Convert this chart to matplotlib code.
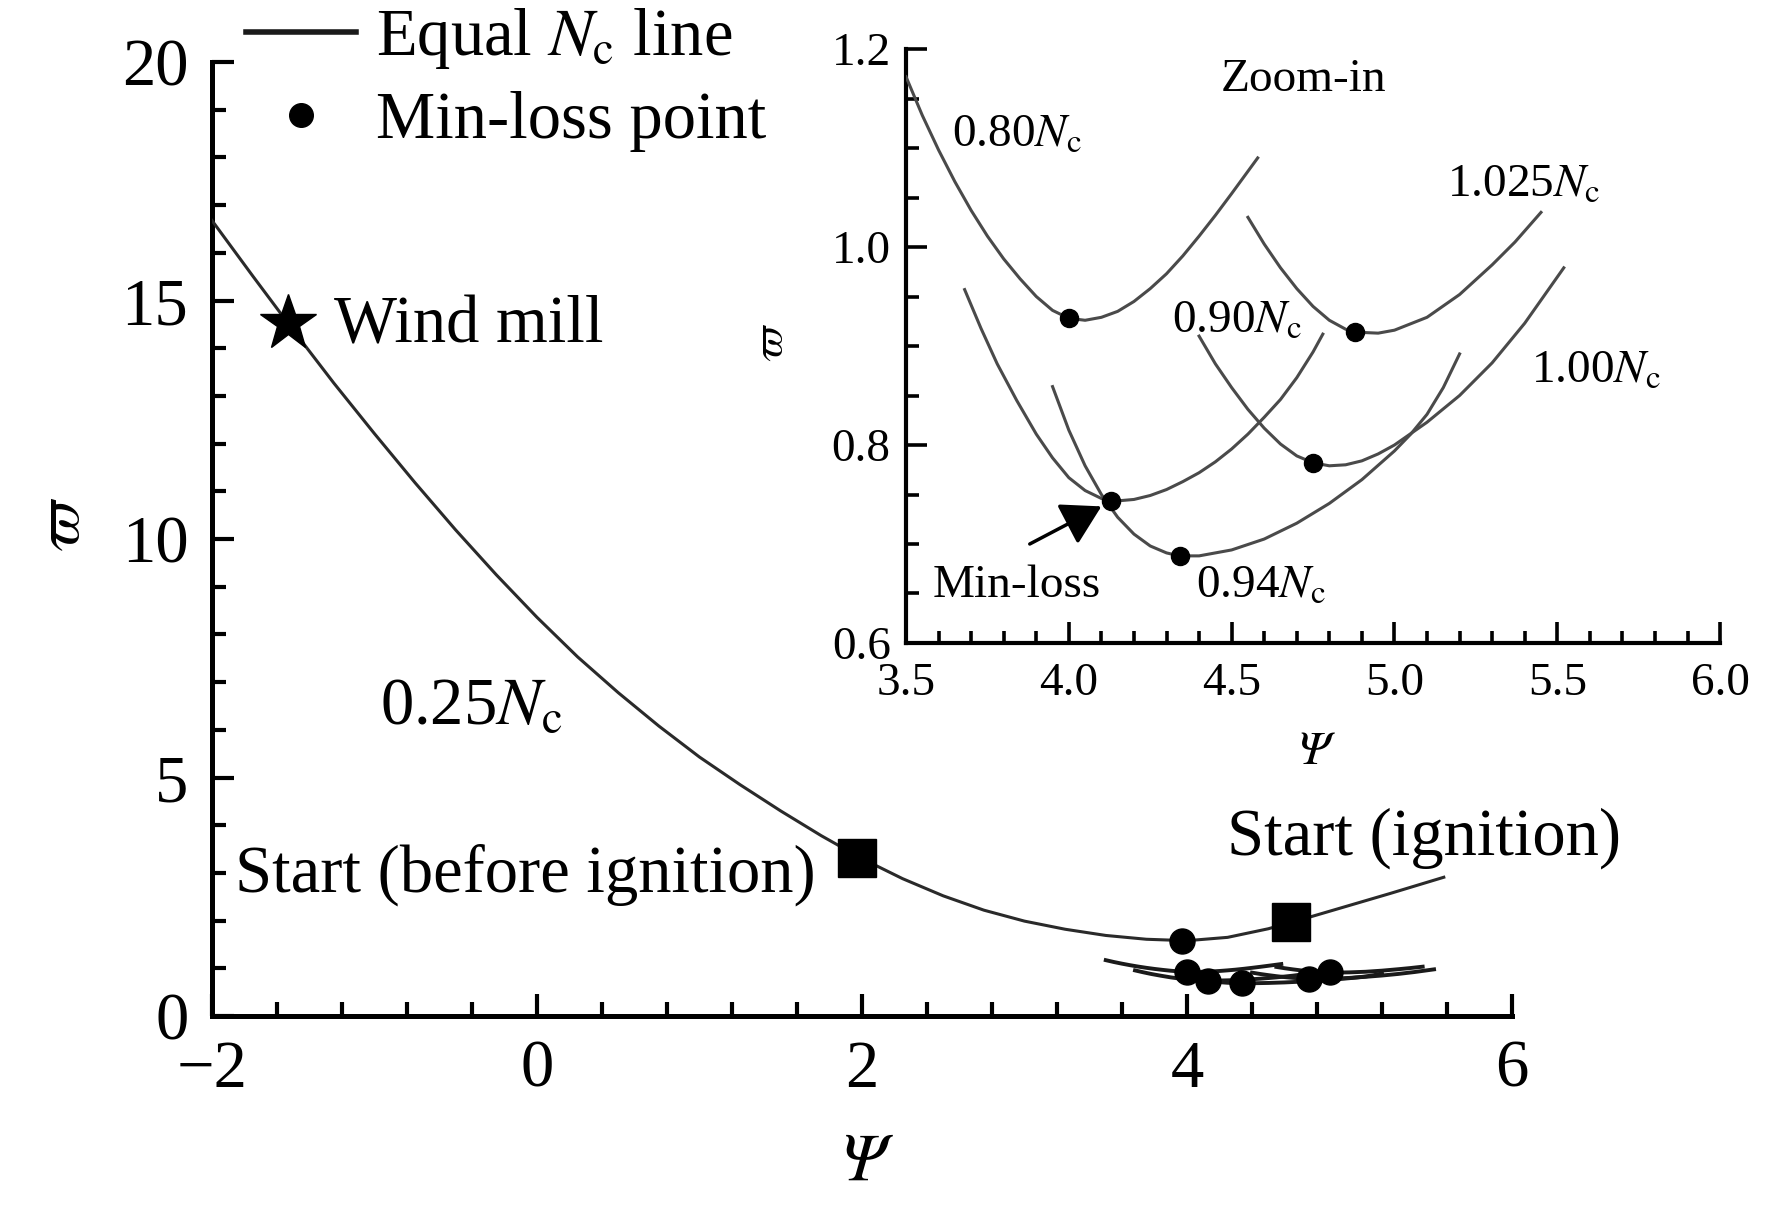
import matplotlib
matplotlib.use("Agg")
import matplotlib.pyplot as plt
from matplotlib.ticker import MultipleLocator, FormatStrFormatter
from matplotlib.lines import Line2D

plt.rcParams['font.family'] = ['Liberation Serif', 'DejaVu Serif']
plt.rcParams['mathtext.fontset'] = 'stix'

# ---------------- data ----------------
# 0.25 Nc equal-speed line (main plot)
psi_025 = [-2.00, -1.75, -1.50, -1.25, -1.00, -0.75, -0.50, -0.25, 0.00, 0.25,
           0.50, 0.75, 1.00, 1.25, 1.50, 1.75, 2.00, 2.25, 2.50, 2.75, 3.00,
           3.25, 3.50, 3.75, 4.00, 4.25, 4.50, 4.75, 5.00, 5.25, 5.58]
w_025 = [16.68, 15.52, 14.38, 13.27, 12.21, 11.18, 10.19, 9.25, 8.36, 7.53,
         6.78, 6.08, 5.43, 4.85, 4.30, 3.78, 3.30, 2.88, 2.52, 2.22, 1.99,
         1.82, 1.69, 1.61, 1.58, 1.65, 1.83, 2.07, 2.32, 2.57, 2.91]

# zoom-in equal-speed lines
psi_080 = [3.50, 3.55, 3.60, 3.65, 3.70, 3.75, 3.80, 3.85, 3.90, 3.95, 4.00,
           4.05, 4.10, 4.15, 4.20, 4.25, 4.30, 4.35, 4.40, 4.45, 4.50, 4.58]
w_080 = [1.172, 1.133, 1.098, 1.066, 1.037, 1.011, 0.988, 0.968, 0.950, 0.936,
         0.928, 0.926, 0.929, 0.935, 0.945, 0.958, 0.973, 0.991, 1.011, 1.032,
         1.054, 1.090]

psi_090 = [3.68, 3.73, 3.78, 3.84, 3.90, 3.95, 4.00, 4.05, 4.10, 4.13, 4.20,
           4.25, 4.30, 4.35, 4.40, 4.45, 4.50, 4.55, 4.60, 4.65, 4.70, 4.75,
           4.78]
w_090 = [0.957, 0.918, 0.882, 0.845, 0.811, 0.787, 0.767, 0.754, 0.746, 0.743,
         0.745, 0.749, 0.755, 0.763, 0.772, 0.783, 0.796, 0.811, 0.828, 0.846,
         0.868, 0.894, 0.912]

psi_094 = [3.95, 4.00, 4.05, 4.10, 4.15, 4.20, 4.25, 4.30, 4.34, 4.40, 4.50,
           4.60, 4.70, 4.80, 4.90, 5.00, 5.05, 5.10, 5.15, 5.20]
w_094 = [0.859, 0.815, 0.779, 0.750, 0.727, 0.710, 0.698, 0.691, 0.688, 0.688,
         0.694, 0.705, 0.721, 0.741, 0.765, 0.794, 0.811, 0.831, 0.858, 0.892]

psi_100 = [4.40, 4.45, 4.50, 4.55, 4.60, 4.65, 4.70, 4.75, 4.80, 4.85, 4.90,
           4.95, 5.00, 5.10, 5.20, 5.30, 5.40, 5.52]
w_100 = [0.910, 0.882, 0.858, 0.836, 0.817, 0.801, 0.789, 0.782, 0.779, 0.780,
         0.784, 0.791, 0.800, 0.823, 0.850, 0.883, 0.923, 0.979]

psi_1025 = [4.55, 4.60, 4.65, 4.70, 4.75, 4.80, 4.85, 4.88, 4.95, 5.00, 5.10,
            5.20, 5.30, 5.37, 5.45]
w_1025 = [1.030, 1.003, 0.979, 0.958, 0.940, 0.926, 0.917, 0.914, 0.913, 0.916,
          0.929, 0.952, 0.982, 1.005, 1.035]

# min-loss points
minloss_main_psi = [3.97]
minloss_main_w = [1.58]
minloss_psi = [4.00, 4.13, 4.34, 4.75, 4.88]
minloss_w = [0.928, 0.743, 0.688, 0.782, 0.914]

# special operating points
windmill_psi, windmill_w = [-1.53], [14.52]
start_psi = [1.97, 4.64]
start_w = [3.31, 1.97]

zoom_curves = [(psi_080, w_080), (psi_090, w_090), (psi_094, w_094),
               (psi_100, w_100), (psi_1025, w_1025)]

# ---------------- figure ----------------
fig = plt.figure(figsize=(17.72, 12.05), dpi=100)
ax = fig.add_axes([0.1196, 0.1568, 0.7337, 0.7917])

ax.plot(psi_025, w_025, color='#2a2a2a', lw=2.2, zorder=3)
for px, wy in zoom_curves:
    ax.plot(px, wy, color='#1a1a1a', lw=2.8, zorder=3)
ax.plot(minloss_main_psi + minloss_psi, minloss_main_w + minloss_w, 'o',
        color='k', ms=18, zorder=4)
ax.plot(windmill_psi, windmill_w, '*', color='k', ms=42, zorder=5)
ax.plot(start_psi, start_w, 's', color='k', ms=28, zorder=5)

ax.set_xlim(-2, 6)
ax.set_ylim(0, 20)
ax.xaxis.set_major_locator(MultipleLocator(2))
ax.xaxis.set_minor_locator(MultipleLocator(0.4))
ax.yaxis.set_major_locator(MultipleLocator(5))
ax.yaxis.set_minor_locator(MultipleLocator(1))
for s in ['top', 'right']:
    ax.spines[s].set_visible(False)
for s in ['left', 'bottom']:
    ax.spines[s].set_linewidth(3.6)
ax.tick_params(which='both', direction='in', width=3.0)
ax.tick_params(which='major', length=16, labelsize=48)
ax.tick_params(which='minor', length=10)
ax.tick_params(axis='x', which='major', pad=17)
ax.tick_params(axis='y', which='major', pad=17)

ax.set_xlabel('Ψ', fontsize=48, fontfamily='STIXGeneral', fontstyle='italic',
              va='center')
ax.xaxis.set_label_coords(0.5008, -0.155)
ax.set_ylabel('ϖ', fontsize=46, fontfamily='STIXGeneral', fontstyle='italic',
              va='center')
ax.yaxis.set_label_coords(-0.1150, 0.515)

ax.text(-1.246, 14.12, 'Wind mill', fontsize=48, va='baseline')
ax.text(-0.967, 6.12, r'0.25$N_\mathrm{c}$', fontsize=48, va='baseline')
ax.text(-1.86, 2.61, 'Start (before ignition)', fontsize=48, va='baseline')
ax.text(4.248, 3.39, 'Start (ignition)', fontsize=48, va='baseline')

handles = [Line2D([], [], color='#1a1a1a', lw=4),
           Line2D([], [], ls='none', marker='o', color='k', ms=17)]
fig.legend(handles, [r'Equal $N_\mathrm{c}$ line', 'Min-loss point'],
           loc='upper left', bbox_to_anchor=(246 / 1772, 0.995),
           frameon=False, fontsize=48, handlelength=1.65, handletextpad=0.3,
           labelspacing=0.30, borderpad=0.0, borderaxespad=0.0)

# ---------------- inset ----------------
ins = fig.add_axes([0.5113, 0.4664, 0.4594, 0.4929])
ins.set_facecolor('none')
for px, wy in zoom_curves:
    ins.plot(px, wy, color='#4a4a4a', lw=2.2, zorder=3)
ins.plot(minloss_psi, minloss_w, 'o', color='k', ms=13, zorder=4)

ins.set_xlim(3.5, 6.0)
ins.set_ylim(0.6, 1.2)
ins.xaxis.set_major_locator(MultipleLocator(0.5))
ins.xaxis.set_minor_locator(MultipleLocator(0.1))
ins.yaxis.set_major_locator(MultipleLocator(0.2))
ins.yaxis.set_minor_locator(MultipleLocator(0.05))
ins.xaxis.set_major_formatter(FormatStrFormatter('%.1f'))
ins.yaxis.set_major_formatter(FormatStrFormatter('%.1f'))
for s in ['top', 'right']:
    ins.spines[s].set_visible(False)
for s in ['left', 'bottom']:
    ins.spines[s].set_linewidth(3.0)
ins.tick_params(which='both', direction='in', width=2.6)
ins.tick_params(which='major', length=15, labelsize=34)
ins.tick_params(which='minor', length=9)
ins.tick_params(axis='x', which='major', pad=14)
ins.tick_params(axis='y', which='major', pad=11)

ins.set_xlabel('Ψ', fontsize=34, fontfamily='STIXGeneral', fontstyle='italic',
               va='center')
ins.xaxis.set_label_coords(0.500, -0.185)
ins.set_ylabel('ϖ', fontsize=32, fontfamily='STIXGeneral', fontstyle='italic',
               va='center')
ins.yaxis.set_label_coords(-0.165, 0.505)

ins.text(4.72, 1.158, 'Zoom-in', fontsize=34, ha='center', va='baseline')
ins.text(3.642, 1.101, r'0.80$N_\mathrm{c}$', fontsize=34, va='baseline')
ins.text(5.16, 1.051, r'1.025$N_\mathrm{c}$', fontsize=34, va='baseline')
ins.text(4.316, 0.913, r'0.90$N_\mathrm{c}$', fontsize=34, va='baseline')
ins.text(5.42, 0.863, r'1.00$N_\mathrm{c}$', fontsize=34, va='baseline')
ins.text(4.389, 0.646, r'0.94$N_\mathrm{c}$', fontsize=34, va='baseline')
ins.text(3.583, 0.646, 'Min-loss', fontsize=34, va='baseline')
ins.annotate('', xy=(4.10, 0.738), xytext=(3.88, 0.700),
             arrowprops=dict(arrowstyle='-|>,head_length=0.6,head_width=0.35',
                             color='k', lw=2.5, mutation_scale=40,
                             shrinkA=0, shrinkB=0))

fig.savefig('out.png', dpi=100)
